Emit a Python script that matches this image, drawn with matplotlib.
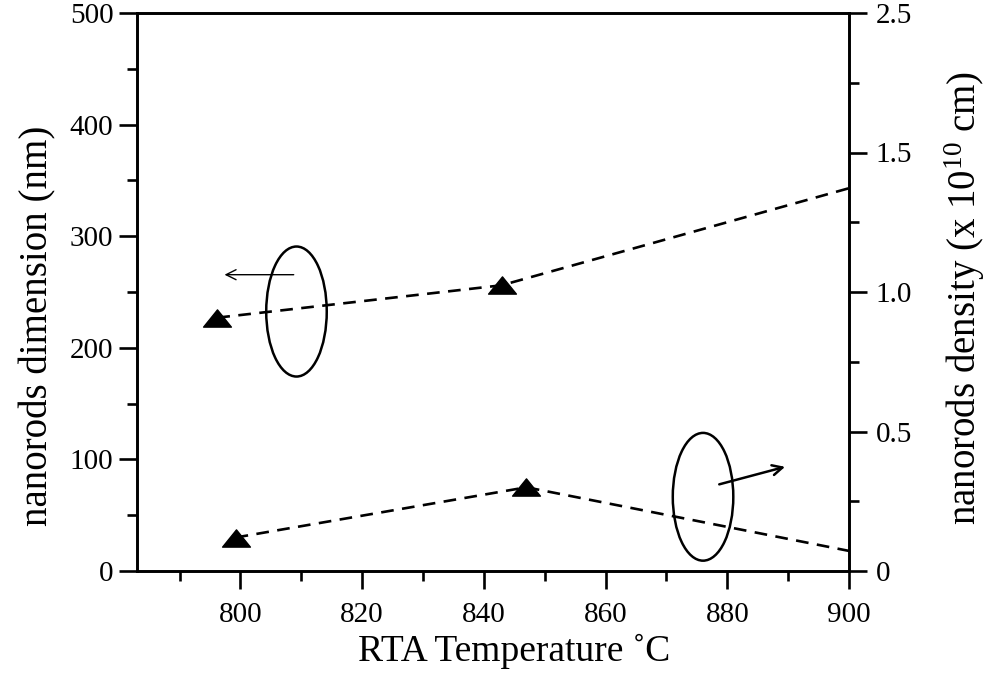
import matplotlib
matplotlib.use("Agg")
import matplotlib.pyplot as plt
from matplotlib.patches import Ellipse
from matplotlib.path import Path

# ---- data ----
temp_dim = [796.2, 842.9, 900.0]          # RTA temperature (°C), dimension series
dimension_nm = [227, 256, 343]            # nanorods dimension (nm)
temp_den = [799.2, 847.0, 900.0]          # RTA temperature (°C), density series
density = [0.12, 0.30, 0.072]             # nanorods density (x 10^10 cm)

x_ticks = [800, 820, 840, 860, 880, 900]
x_minor = [790, 810, 830, 850, 870, 890]
left_ticks = [0, 100, 200, 300, 400, 500]
left_minor = [50, 150, 250, 350, 450]
right_ticks = [0, 0.5, 1.0, 1.5, 2.0]
right_tick_labels = ["0", "0.5", "1.0", "1.5", "2.5"]
right_minor = [0.25, 0.75, 1.25, 1.75]

serif = ["Liberation Serif", "DejaVu Serif"]
plt.rcParams["font.family"] = serif
plt.rcParams["mathtext.fontset"] = "custom"
plt.rcParams["mathtext.rm"] = "Liberation Serif"
plt.rcParams["mathtext.it"] = "Liberation Serif:italic"

fig = plt.figure(figsize=(9.87, 6.75), dpi=100)
ax = fig.add_axes([137/987, 1 - 571/675, (849-137)/987, (571-13)/675])
ax2 = ax.twinx()

tri = Path([(0, 0.62), (-1, -0.62), (1, -0.62), (0, 0.62)],
           [Path.MOVETO, Path.LINETO, Path.LINETO, Path.CLOSEPOLY])

ax.plot(temp_dim, dimension_nm, color="black", lw=1.9, ls=(0, (4.8, 3.2)),
        zorder=3)
ax.plot(temp_dim[:2], dimension_nm[:2], ls="none", marker=tri, ms=20,
        color="black", zorder=4)
ax2.plot(temp_den, density, color="black", lw=1.9, ls=(0, (4.8, 3.2)),
         zorder=3)
ax2.plot(temp_den[:2], density[:2], ls="none", marker=tri, ms=20,
         color="black", zorder=4)

ax.set_xlim(783, 900)
ax.set_ylim(0, 500)
ax2.set_ylim(0, 2.0)

ax.set_xticks(x_ticks)
ax.set_xticks(x_minor, minor=True)
ax.set_yticks(left_ticks)
ax.set_yticks(left_minor, minor=True)
ax2.set_yticks(right_ticks)
ax2.set_yticklabels(right_tick_labels)
ax2.set_yticks(right_minor, minor=True)

for a in (ax, ax2):
    for s in a.spines.values():
        s.set_linewidth(1.9)
    a.tick_params(which="major", direction="out", length=13, width=1.9,
                  labelsize=21)
    a.tick_params(which="minor", direction="out", length=7, width=1.9)

ax.tick_params(axis="x", pad=9)
ax.tick_params(axis="y", pad=4)
ax2.tick_params(axis="y", pad=6)

ax.set_xlabel("RTA Temperature \u02daC", fontsize=27)
ax.xaxis.set_label_coords(0.53, -0.112)
ax.set_ylabel("nanorods dimension (nm)", fontsize=28)
ax.yaxis.set_label_coords(-0.113, 0.44)
ax2.set_ylabel(r"nanorods density (x 10$^{\mathrm{10}}$ cm)", fontsize=28)
ax2.yaxis.set_label_coords(1.132, 0.49)

# annotations: ellipses and arrows (axes-fraction placement)
ax.add_patch(Ellipse((0.224, 0.465), 0.085, 0.233, transform=ax.transAxes,
                     fill=False, lw=1.8, color="black", zorder=5))
ax.annotate("", xy=(0.119, 0.531), xytext=(0.224, 0.531),
            xycoords="axes fraction",
            arrowprops=dict(arrowstyle="->", lw=1.0, color="black",
                            mutation_scale=18))
ax.add_patch(Ellipse((0.795, 0.133), 0.085, 0.229, transform=ax.transAxes,
                     fill=False, lw=1.8, color="black", zorder=5))
ax.annotate("", xy=(0.914, 0.188), xytext=(0.814, 0.154),
            xycoords="axes fraction",
            arrowprops=dict(arrowstyle="->", lw=1.8, color="black",
                            mutation_scale=18))

fig.savefig("out.png", dpi=100)
